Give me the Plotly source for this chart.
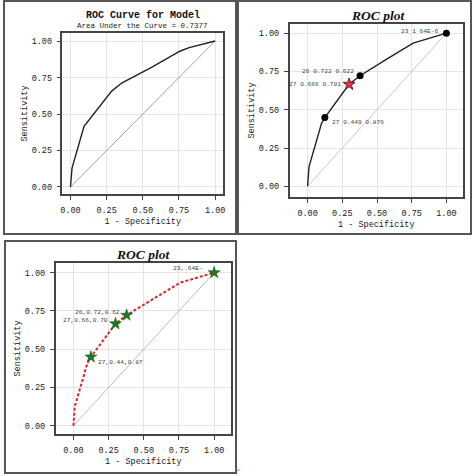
"""
three ROC panels: SAS style roc curve, roc plot with cutoff labels
"""
import plotly.graph_objs as go

W, H = 474, 476

# panel 1 - ROC curve for model (AUC 0.7377)
fpr_model = [0, 0.011, 0.094, 0.285, 0.354, 0.56, 0.756, 0.82, 1]
tpr_model = [0, 0.13, 0.415, 0.657, 0.712, 0.82, 0.93, 0.955, 1]
auc_model = 0.7377

# panel 2 and 3 - ROC plot
fpr_roc = [0, 0.01, 0.1, 0.124, 0.299, 0.378, 0.57, 0.76, 1]
tpr_roc = [0, 0.127, 0.41, 0.449, 0.666, 0.722, 0.83, 0.935, 1]

# labelled cutoff points
fpr_pts = [0.124, 0.299, 0.378, 1.0]
tpr_pts = [0.449, 0.666, 0.722, 1.0]
labels2 = ["27 0.449 0.876", "27 0.666 0.701", "26 0.722 0.622", "23 1 64E-6"]
labels3 = ["27,0.44,0.87", "27,0.66,0.70", "26,0.72,0.62", "23,.64E-"]

ticks = [0, 0.25, 0.5, 0.75, 1.0]
tick_text = ["0.00", "0.25", "0.50", "0.75", "1.00"]

MONO = "Liberation Mono"

# label placement (anchor, xshift, yshift) per cutoff point
place2 = [("left", 5, -5), ("right", -6, 0), ("right", -4, 4), ("right", -6, 2)]
place3 = [("left", 5, -5), ("right", -6, 3), ("right", -5, 3), ("right", -9, 4)]


def px(x):
    return x / W


def py(y):
    return 1 - y / H


def axis_style(dom, rng, title, anchor):
    return dict(
        domain=dom, range=rng, anchor=anchor,
        tickvals=ticks, ticktext=tick_text,
        ticks="outside", ticklen=4, tickcolor="#444", tickwidth=1,
        ticklabelstandoff=3,
        showline=True, linecolor="#444", linewidth=1.5, mirror=True,
        showgrid=True, gridcolor="#e4e4e4", gridwidth=1,
        zeroline=False,
        tickfont=dict(family=MONO, size=8.5, color="#222"),
        title=dict(text=title, font=dict(family=MONO, size=8.5, color="#222"), standoff=3),
    )


def note(text, x, y, font):
    return dict(text=text, x=px(x), y=py(y), xref="paper", yref="paper",
                xanchor="center", yanchor="middle", showarrow=False, font=font)


def point_labels(labels, place, xref, yref):
    out = []
    for x, y, t, (anc, dx, dy) in zip(fpr_pts, tpr_pts, labels, place):
        out.append(dict(text=t, x=x, y=y, xref=xref, yref=yref,
                        xanchor=anc, yanchor="middle", xshift=dx, yshift=dy,
                        showarrow=False,
                        font=dict(family=MONO, size=6.2, color="#444")))
    return out


traces = []
# panel 1
traces.append(go.Scatter(x=[0, 1], y=[0, 1], mode="lines", xaxis="x", yaxis="y",
                         line=dict(color="#888", width=0.8)))
traces.append(go.Scatter(x=fpr_model, y=tpr_model, mode="lines", xaxis="x", yaxis="y",
                         line=dict(color="#222", width=1.4)))

# panel 2
traces.append(go.Scatter(x=[0, 1], y=[0, 1], mode="lines", xaxis="x2", yaxis="y2",
                         line=dict(color="#c8c8c8", width=1)))
traces.append(go.Scatter(x=fpr_roc, y=tpr_roc, mode="lines", xaxis="x2", yaxis="y2",
                         line=dict(color="#222", width=1.4)))
black_idx = [0, 2, 3]
traces.append(go.Scatter(
    x=[fpr_pts[i] for i in black_idx], y=[tpr_pts[i] for i in black_idx],
    mode="markers", xaxis="x2", yaxis="y2",
    marker=dict(color="black", size=7, symbol="circle")))
traces.append(go.Scatter(
    x=[fpr_pts[1]], y=[tpr_pts[1]], mode="markers", xaxis="x2", yaxis="y2",
    marker=dict(color="#d23a4a", size=9, symbol="star",
                line=dict(color="#8a1020", width=1))))

# panel 3
traces.append(go.Scatter(x=[0, 1], y=[0, 1], mode="lines", xaxis="x3", yaxis="y3",
                         line=dict(color="#aaa", width=0.8)))
traces.append(go.Scatter(x=fpr_roc, y=tpr_roc, mode="lines", xaxis="x3", yaxis="y3",
                         line=dict(color="#d42a2a", width=2, dash="3px,2px")))
traces.append(go.Scatter(
    x=fpr_pts, y=tpr_pts, mode="markers", xaxis="x3", yaxis="y3",
    marker=dict(color="#1f7a1f", size=9, symbol="star",
                line=dict(color="#0d4d0d", width=0.5))))

annotations = [
    note("<b>ROC Curve for Model</b>", 142, 15, dict(family=MONO, size=10, color="#111")),
    note("Area Under the Curve = %.4f" % auc_model, 142, 26,
         dict(family=MONO, size=7.5, color="#222")),
    note("<b><i>ROC plot</i></b>", 379, 15, dict(family="Liberation Serif", size=13.5, color="#111")),
    note("<b><i>ROC plot</i></b>", 142, 254, dict(family="Liberation Serif", size=13.5, color="#111")),
    note("\u21b5", 239, 470, dict(size=6, color="#888")),
]
annotations += point_labels(labels2, place2, "x2", "y2")
annotations += point_labels(labels3, place3, "x3", "y3")

layout = dict(
    width=W, height=H, showlegend=False,
    margin=dict(l=0, r=0, t=0, b=0),
    paper_bgcolor="white", plot_bgcolor="white",
    xaxis=axis_style([px(61), px(223)], [-0.055, 1.055], "1 - Specificity", "y"),
    yaxis=axis_style([py(194), py(33)], [-0.048, 1.055], "Sensitivity", "x"),
    xaxis2=axis_style([px(290), px(465)], [-0.13, 1.12], "1 - Specificity", "y2"),
    yaxis2=axis_style([py(197), py(24)], [-0.07, 1.06], "Sensitivity", "x2"),
    xaxis3=axis_style([px(54), px(231)], [-0.127, 1.12], "1 - Specificity", "y3"),
    yaxis3=axis_style([py(434), py(263)], [-0.054, 1.063], "Sensitivity", "x3"),
    shapes=[
        dict(type="rect", xref="paper", yref="paper",
             x0=px(2), x1=px(236), y0=py(234), y1=py(1),
             line=dict(color="#555", width=2)),
        dict(type="rect", xref="paper", yref="paper",
             x0=px(238), x1=px(473), y0=py(234), y1=py(1),
             line=dict(color="#555", width=2)),
        dict(type="rect", xref="paper", yref="paper",
             x0=px(3), x1=px(236), y0=py(473), y1=py(241),
             line=dict(color="#555", width=2)),
    ],
    annotations=annotations,
)

fig = go.Figure(data=traces, layout=layout)
fig.write_html("out.html", config={"displayModeBar": False},
               post_script="document.body.style.margin='0px';")
